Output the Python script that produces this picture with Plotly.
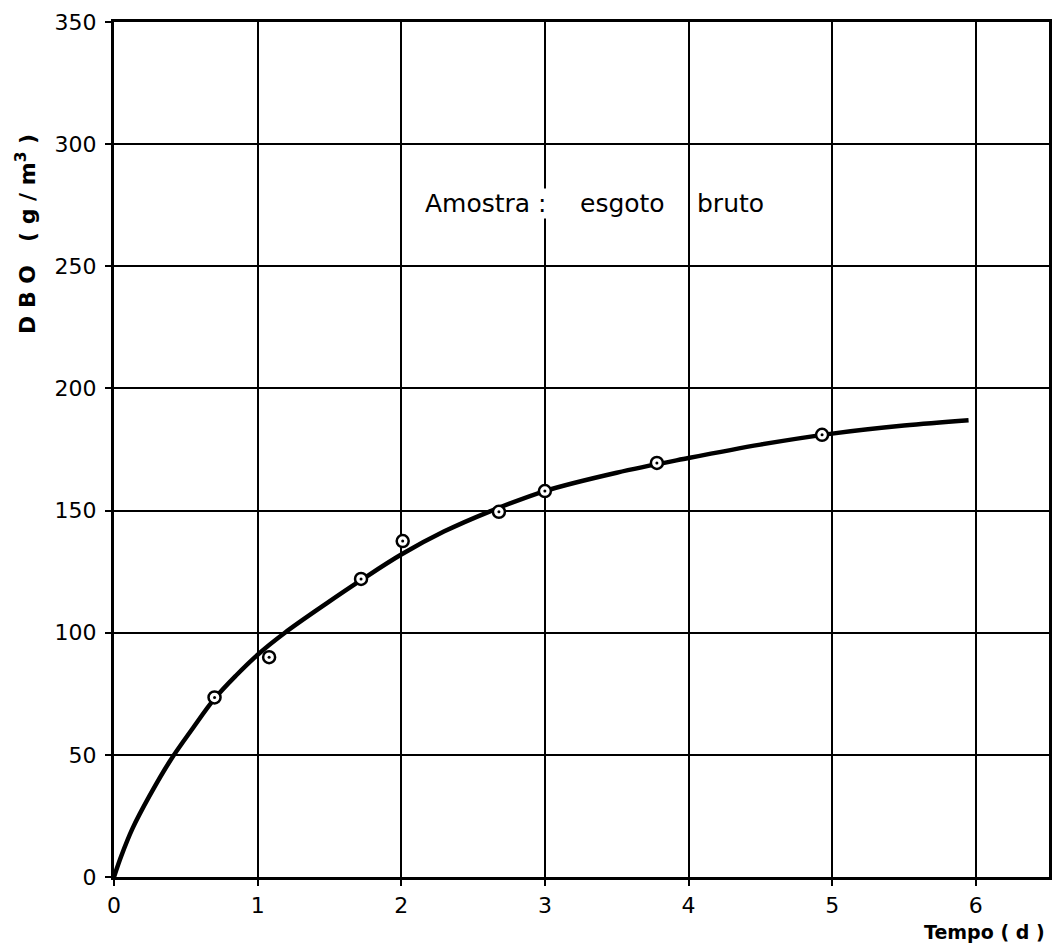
import plotly.graph_objects as go

# Measured BOD of raw sewage (days, g/m3)
t_obs = [0.70, 1.08, 1.72, 2.01, 2.68, 3.00, 3.78, 4.93]
dbo_obs = [73.5, 90.0, 122.0, 137.5, 149.5, 158.0, 169.5, 181.0]

# Fitted BOD curve read along its path
t_fit = [0.0, 0.05, 0.13, 0.25, 0.39, 0.55, 0.70, 0.85, 1.00, 1.19, 1.48, 1.72,
         2.00, 2.30, 2.61, 3.00, 3.50, 4.00, 4.50, 5.00, 5.50, 5.95]
dbo_fit = [0.0, 8.5, 20.0, 33.5, 47.5, 61.0, 73.0, 82.5, 91.0, 100.0, 112.0, 121.5,
           132.0, 141.5, 149.5, 158.0, 165.5, 171.5, 177.0, 181.5, 184.8, 187.0]

x_ticks = [0, 1, 2, 3, 4, 5, 6]
y_ticks = [0, 50, 100, 150, 200, 250, 300, 350]

# Sample description, split into its three words
note_words = ["Amostra :", "esgoto", "bruto"]
note_x = [2.16, 3.236, 4.049]
note_y = 275.5

ink = "#000000"
font_family = "DejaVu Sans"

fig = go.Figure()

fig.add_trace(go.Scatter(
    x=t_fit, y=dbo_fit, mode="lines",
    line=dict(color=ink, width=4.5, shape="spline", smoothing=1.0),
    hoverinfo="skip", showlegend=False,
))

fig.add_trace(go.Scatter(
    x=t_obs, y=dbo_obs, mode="markers",
    marker=dict(symbol="circle", size=12, color="white", line=dict(color=ink, width=2.5)),
    showlegend=False,
))
fig.add_trace(go.Scatter(
    x=t_obs, y=dbo_obs, mode="markers",
    marker=dict(symbol="circle", size=3, color=ink),
    showlegend=False,
))

axis_common = dict(
    showline=True, linecolor=ink, linewidth=3, mirror=True,
    showgrid=True, gridcolor=ink, gridwidth=2,
    ticks="outside", ticklen=6, tickwidth=2, tickcolor=ink,
    zeroline=False,
    tickfont=dict(family=font_family, size=22, color=ink),
)

fig.update_xaxes(range=[0, 6.51], tickmode="array", tickvals=x_ticks,
                 ticktext=[str(v) for v in x_ticks], ticklabelstandoff=1, **axis_common)
fig.update_yaxes(range=[0, 350], tickmode="array", tickvals=y_ticks,
                 ticktext=[str(v) for v in y_ticks], ticklabelstandoff=4, **axis_common)

for word, xw in zip(note_words, note_x):
    fig.add_annotation(
        x=xw, y=note_y, xref="x", yref="y", xanchor="left", yanchor="middle",
        text=word, showarrow=False, borderpad=0,
        font=dict(family=font_family, size=25, color=ink), bgcolor="white",
    )

fig.add_annotation(
    x=0, y=0.752, xref="paper", yref="paper", xshift=-88,
    xanchor="center", yanchor="middle", showarrow=False,
    text="<b>D B O   ( g / m<sup>3</sup> )</b>", textangle=-90,
    font=dict(family=font_family, size=22, color=ink),
)
fig.add_annotation(
    x=1.0, y=0, xref="paper", yref="paper", xanchor="right", yanchor="middle",
    xshift=-2, yshift=-55, showarrow=False,
    text="<b>Tempo ( d )</b>",
    font=dict(family=font_family, size=19, color=ink),
)

fig.update_layout(
    width=1057, height=948,
    margin=dict(l=114, r=5, t=22, b=71),
    paper_bgcolor="white", plot_bgcolor="white",
)

fig.write_html("out.html")
